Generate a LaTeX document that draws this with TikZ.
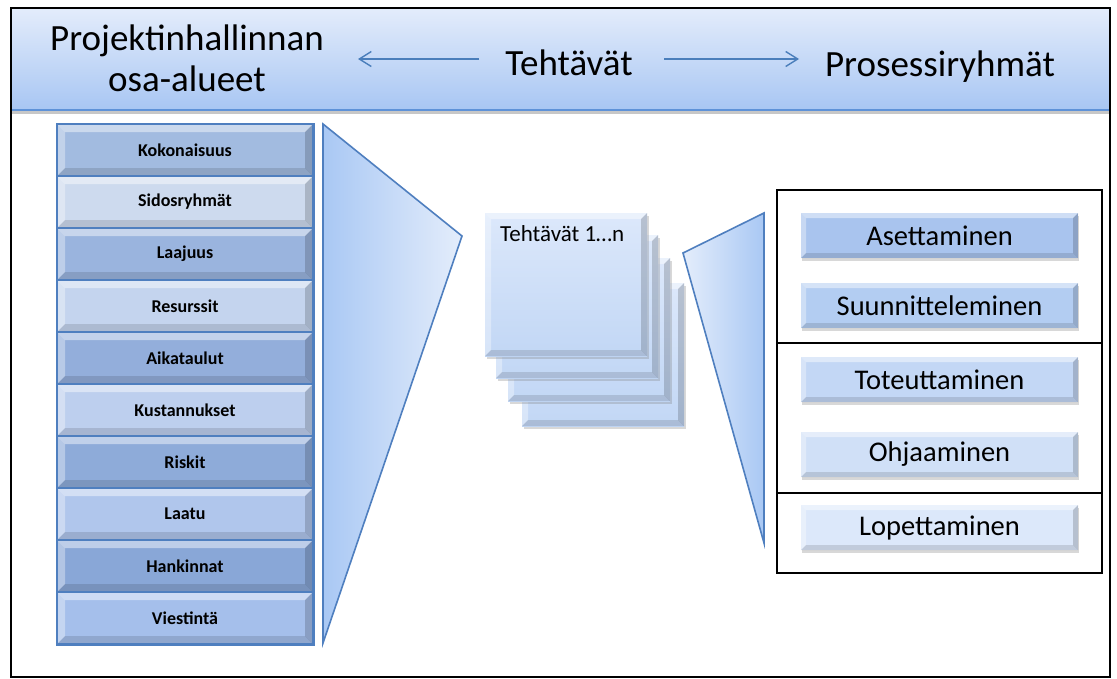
\documentclass[tikz,border=0pt]{standalone}
\usepackage{fontspec}
\setmainfont{Carlito}
\usetikzlibrary{shadows,arrows.meta}
\definecolor{hdrT}{HTML}{E3ECFB}
\definecolor{hdrB}{HTML}{A8C6F3}
\definecolor{hdrLine}{HTML}{5E92D8}
\definecolor{arrBlue}{HTML}{4A7EBB}
\definecolor{stackBlue}{HTML}{4F7FBF}
\definecolor{rA}{HTML}{A2BBE0}
\definecolor{rB}{HTML}{CDDAEE}
\definecolor{rC}{HTML}{9AB4DE}
\definecolor{rD}{HTML}{C4D4EE}
\definecolor{rE}{HTML}{93AEDB}
\definecolor{rF}{HTML}{BDCFEE}
\definecolor{rG}{HTML}{8EABD9}
\definecolor{rH}{HTML}{B0C6EC}
\definecolor{rI}{HTML}{89A7D7}
\definecolor{rJ}{HTML}{A5BFEB}
\definecolor{fDark}{HTML}{A9C8F4}
\definecolor{fLight}{HTML}{E4EDFB}
\definecolor{cardT}{HTML}{DCE8FB}
\definecolor{cardB}{HTML}{C2D7F5}
\definecolor{bA}{HTML}{A9C4EE}
\definecolor{bB}{HTML}{B3CDF2}
\definecolor{bC}{HTML}{C3D7F5}
\definecolor{bD}{HTML}{D0E0F7}
\definecolor{bE}{HTML}{DCE8FA}
\newcommand\drawbevel[1]{%
  \fill[white,opacity=.45] (path picture bounding box.north west) -- (path picture bounding box.north east)
    -- ([shift={(-#1,-#1)}]path picture bounding box.north east) -- ([shift={(#1,-#1)}]path picture bounding box.north west) -- cycle;
  \fill[white,opacity=.35] (path picture bounding box.north west) -- ([shift={(#1,-#1)}]path picture bounding box.north west)
    -- ([shift={(#1,#1)}]path picture bounding box.south west) -- (path picture bounding box.south west) -- cycle;
  \fill[black,opacity=.12] (path picture bounding box.south west) -- (path picture bounding box.south east)
    -- ([shift={(-#1,#1)}]path picture bounding box.south east) -- ([shift={(#1,#1)}]path picture bounding box.south west) -- cycle;
  \fill[black,opacity=.17] (path picture bounding box.north east) -- (path picture bounding box.south east)
    -- ([shift={(-#1,#1)}]path picture bounding box.south east) -- ([shift={(-#1,-#1)}]path picture bounding box.north east) -- cycle;
}
\tikzset{
  bev/.style={path picture={\drawbevel{#1}}},
  hdrtext/.style={anchor=base, font=\fontsize{37}{43}\selectfont, inner sep=0},
  hdrarrow/.style={draw=arrBlue, line width=1.4pt, -{Straight Barb[length=12pt,width=15pt,line width=1.4pt]}},
  rowbox/.style={draw=stackBlue, line width=1.2pt, minimum width=256pt, minimum height=52pt, inner sep=0,
     font=\fontsize{18}{21}\selectfont\bfseries, bev=8pt},
  funnel/.style={draw=stackBlue, line width=1.6pt},
  card/.style={minimum width=162pt, minimum height=143pt, inner sep=0, top color=cardT, bottom color=cardB,
     bev=6pt, drop shadow={shadow xshift=1.5pt, shadow yshift=-2.5pt, opacity=.3}},
  btn/.style={minimum width=277pt, minimum height=45pt, inner sep=0, font=\fontsize{28.5}{33}\selectfont,
     bev=5pt, drop shadow={shadow xshift=1pt, shadow yshift=-3pt, opacity=.3}},
  pgframe/.style={draw=black, line width=2.5pt}
}
\begin{document}
\begin{tikzpicture}[x=1pt,y=-1pt]
\useasboundingbox (0,0) rectangle (1117,678);
\fill[white] (0,0) rectangle (1117,678);
% header band
\shade[top color=hdrT, bottom color=hdrB] (12,9) rectangle (1109,110);
\draw[black!22, line width=2.5pt] (12,112.5) -- (1109,112.5);
\draw[hdrLine, line width=2pt] (12,110) -- (1109,110);
\node[hdrtext] (hl1) at (187,50) {Projektinhallinnan};
\node[hdrtext] (hl2) at (187,91) {osa-alueet};
\node[hdrtext] (hm) at (569,75) {Tehtävät};
\node[hdrtext] (hr) at (940,76) {Prosessiryhmät};
\coordinate (la1) at (479,59);
\coordinate (la2) at (358,59);
\coordinate (ra1) at (664,59);
\coordinate (ra2) at (799,59);
\draw[hdrarrow] (la1) -- (la2);
\draw[hdrarrow] (ra1) -- (ra2);
% left stack
\foreach \i/\t/\c in {1/Kokonaisuus/rA,2/Sidosryhmät/rB,3/Laajuus/rC,4/Resurssit/rD,5/Aikataulut/rE,
                      6/Kustannukset/rF,7/Riskit/rG,8/Laatu/rH,9/Hankinnat/rI,10/Viestintä/rJ}
  \node[rowbox, fill=\c] (row\i) at (185,{98+52*\i}) {\t};
\draw[stackBlue, line width=1.8pt] (row1.north west) rectangle (row10.south east);
% left funnel
\path[funnel, left color=fDark, right color=fLight] (323,124) -- (462,236) -- (323,643) -- cycle;
% task cards
\node[card] (task4) at (603,354.5) {};
\node[card] (task3) at (589,329.5) {};
\node[card] (task2) at (577,306.5) {};
\node[card] (task1) at (566,284.5) {};
\node[anchor=base west, inner sep=0, font=\fontsize{23}{27}\selectfont] (tasklbl) at (500,241) {Tehtävät 1…n};
% right funnel
\path[funnel, left color=fLight, right color=fDark] (683,253) -- (764,213) -- (764,543) -- cycle;
% process groups
\node[pgframe, minimum width=325pt, minimum height=383pt, inner sep=0] (pg) at (939.5,381.5) {};
\draw[line width=2pt] (pg.west |- 0,343) -- (pg.east |- 0,343);
\draw[line width=2pt] (pg.west |- 0,493) -- (pg.east |- 0,493);
\node[btn, fill=bA] (b1) at (939.5,235.5) {Asettaminen};
\node[btn, fill=bB] (b2) at (939.5,305.5) {Suunnitteleminen};
\node[btn, fill=bC] (b3) at (939.5,379.5) {Toteuttaminen};
\node[btn, fill=bD] (b4) at (939.5,454.5) {Ohjaaminen};
\node[btn, fill=bE] (b5) at (939.5,527.5) {Lopettaminen};
% outer frame
\draw[line width=2pt] (11,8) rectangle (1110,677);
\end{tikzpicture}
\end{document}
